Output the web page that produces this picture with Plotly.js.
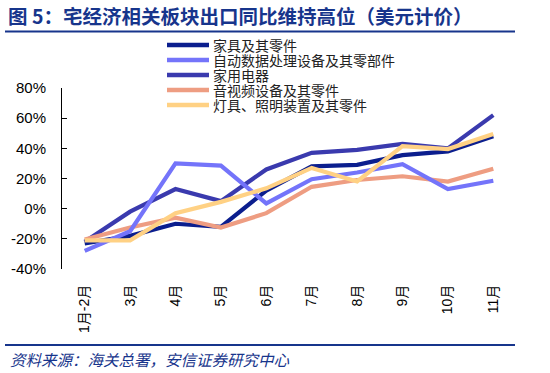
<!DOCTYPE html>
<html>
<head>
<meta charset="utf-8">
<script src="https://cdn.plot.ly/plotly-3.0.1.min.js"></script>
<style>html,body{margin:0;padding:0;background:#fff;}#chart{width:550px;height:373px;}</style>
</head>
<body>
<div id="chart"></div>
<script>
// ---- data ----
const categories = ['1月-2月','3月','4月','5月','6月','7月','8月','9月','10月','11月'];
const furniture = [-23, -18, -10, -12, 12, 28, 29, 35.5, 38, 48];
const dataProc  = [-28, -15, 30, 28.5, 3.5, 19.5, 24, 29.5, 13, 18.5];
const appliance = [-22, -2, 13, 5, 26, 37, 39, 43, 40, 62];
const audioVideo = [-20.5, -12.5, -6, -12.5, -3, 14.5, 19, 21.5, 18, 26.5];
const lighting  = [-21, -21, -3, 4.5, 13.5, 27, 18, 41.5, 39.5, 49.5];
const seriesNames = ['家具及其零件','自动数据处理设备及其零部件','家用电器','音视频设备及其零件','灯具、照明装置及其零件'];
const yTickVals = [-40, -20, 0, 20, 40, 60, 80];

// ---- styling ----
const colors = ['#0b1e8e', '#7474fa', '#3a3aae', '#ee9d82', '#ffd184'];
const W = 550, H = 373;
const L = 62, R = 516, T = 88, B = 269;
const px = x => (x - L) / (R - L);
const py = y => (B - y) / (B - T);
const cjk = 'Liberation Sans, Arial, Noto Sans CJK SC, sans-serif';
const navy = '#17358c';

const values = [furniture, dataProc, appliance, audioVideo, lighting];
const drawOrder = [2, 0, 3, 1, 4];
const traces = drawOrder.map(i => ({
  type: 'scatter', mode: 'lines', x: categories, y: values[i], name: seriesNames[i],
  line: {color: colors[i], width: 4.2}, showlegend: false, hoverinfo: 'skip'
}));

const shapes = [
  {type:'line', xref:'paper', yref:'paper', x0:px(5), x1:px(515), y0:py(31.5), y1:py(31.5), line:{color:navy, width:2}},
  {type:'line', xref:'paper', yref:'paper', x0:px(5), x1:px(515), y0:py(345), y1:py(345), line:{color:navy, width:2}}
];
const annotations = [
  {xref:'paper', yref:'paper', x:px(8), y:py(359), xanchor:'left', yanchor:'middle', showarrow:false,
   text:'资料来源：海关总署，安信证券研究中心', font:{family:'Noto Sans CJK SC', size:15.5, color:navy, style:'italic'}}
];
const legendY = [45, 60, 75, 90, 105];
seriesNames.forEach((n, i) => {
  shapes.push({type:'line', xref:'paper', yref:'paper', x0:px(167), x1:px(209), y0:py(legendY[i]), y1:py(legendY[i]),
    line:{color:colors[i], width:4.5}});
  annotations.push({xref:'paper', yref:'paper', x:px(212), y:py(legendY[i]), xanchor:'left', yanchor:'middle',
    showarrow:false, borderpad:0, text:n, font:{family:'Noto Sans CJK SC', size:14, color:'#222'}});
});

const layout = {
  width: W, height: H,
  margin: {l: L, r: W - R, t: T, b: H - B, pad: 0},
  paper_bgcolor: '#fff', plot_bgcolor: 'rgba(0,0,0,0)',
  showlegend: false,
  title: {text: '<b>图 5：宅经济相关板块出口同比维持高位（美元计价）</b>', xref:'container', yref:'container',
          x: 8/W, xanchor:'left', y: 1 - 17/H, yanchor:'middle',
          font: {family:'Noto Sans CJK SC', size: 19.5, color: navy}},
  xaxis: {type:'category', range:[-0.5, 9.5], showline:false, showgrid:false, zeroline:false,
          ticks:'', tickangle:-90, ticklabelstandoff: 12,
          tickfont:{family:cjk, size:14, color:'#000'}},
  xaxis2: {overlaying:'x', anchor:'free', position: 40/120, type:'linear', range:[-0.5, 9.5],
           tick0:-0.5, dtick:1, ticks:'inside', ticklen:4, tickcolor:'#444', tickwidth:1,
           showline:true, linecolor:'#666', linewidth:1.3, showticklabels:false, showgrid:false, zeroline:false},
  yaxis: {range:[-40, 80], tickvals: yTickVals, ticktext: yTickVals.map(v => v + '%'),
          showline:true, linecolor:'#000', linewidth:1, ticks:'inside', ticklen:5, tickcolor:'#000',
          showgrid:false, zeroline:false, tickfont:{family:cjk, size:15, color:'#000'}, ticklabelstandoff: 12},
  shapes: shapes, annotations: annotations
};

Plotly.newPlot('chart', traces, layout, {displayModeBar:false, staticPlot:true});
</script>
</body>
</html>
